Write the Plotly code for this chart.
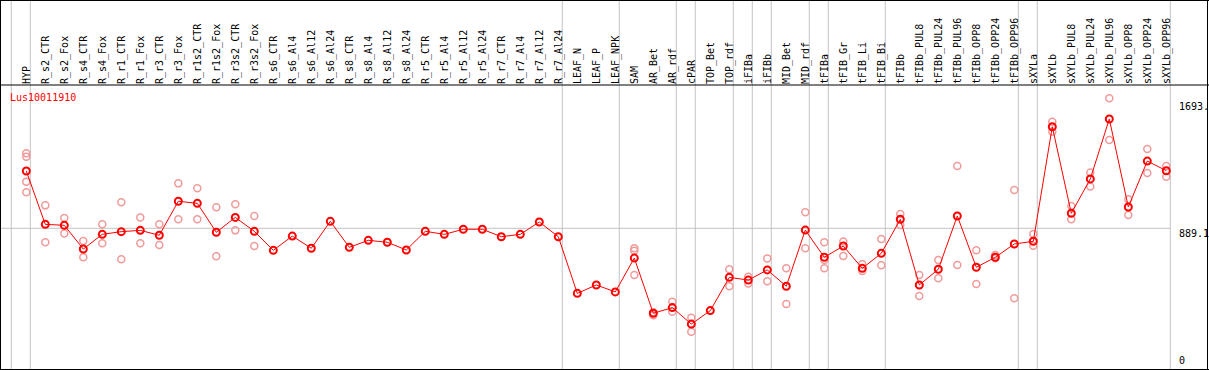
import plotly.graph_objects as go

categories = [
    "HYP", "R_s2_CTR", "R_s2_Fox", "R_s4_CTR", "R_s4_Fox", "R_r1_CTR", "R_r1_Fox",
    "R_r3_CTR", "R_r3_Fox", "R_r1s2_CTR", "R_r1s2_Fox", "R_r3s2_CTR", "R_r3s2_Fox",
    "R_s6_CTR", "R_s6_Al4", "R_s6_Al12", "R_s6_Al24", "R_s8_CTR", "R_s8_Al4",
    "R_s8_Al12", "R_s8_Al24", "R_r5_CTR", "R_r5_Al4", "R_r5_Al12", "R_r5_Al24",
    "R_r7_CTR", "R_r7_Al4", "R_r7_Al12", "R_r7_Al24", "LEAF_N", "LEAF_P", "LEAF_NPK",
    "SAM", "AR_Bet", "AR_rdf", "cPAR", "TOP_Bet", "TOP_rdf", "iFIBa", "iFIBb",
    "MID_Bet", "MID_rdf", "tFIBa", "tFIB_Gr", "tFIB_Li", "tFIB_Bi", "tFIBb",
    "tFIBb_PUL8", "tFIBb_PUL24", "tFIBb_PUL96", "tFIBb_OPP8", "tFIBb_OPP24",
    "tFIBb_OPP96", "sXYLa", "sXYLb", "sXYLb_PUL8", "sXYLb_PUL24", "sXYLb_PUL96",
    "sXYLb_OPP8", "sXYLb_OPP24", "sXYLb_OPP96",
]

means = [
    1251, 914, 908, 758, 851, 868, 876, 845, 1060, 1047, 864, 958, 870,
    750, 840, 763, 933, 769, 813, 801, 752, 870, 851, 883, 883, 836, 851, 929, 836,
    478, 531, 487, 701, 352, 388, 284, 369, 579, 562, 626, 523, 878,
    706, 777, 636, 731, 946, 531, 630, 967, 643, 706, 790, 807,
    1531, 984, 1201, 1580, 1024, 1314, 1253,
]

replicates = [
    [1363, 1342, 1184, 1117], [1034, 801], [954, 857], [809, 706], [914, 794],
    [1053, 693], [958, 794], [914, 784], [1173, 946], [1142, 946], [1022, 712],
    [1041, 876], [967, 777],
    [], [], [], [], [], [], [], [], [], [], [], [], [], [], [], [],
    [], [], [],
    [763, 748, 594], [358, 339], [425, 362], [324, 236], [], [630, 523],
    [583, 541], [699, 554], [636, 411], [990, 763],
    [801, 689, 636], [805, 714], [662, 619], [821, 655], [979, 910],
    [594, 461], [689, 573], [1283, 657], [750, 537], [720, 700], [1131, 447],
    [853, 779],
    [1563, 1500], [1030, 946], [1241, 1153], [1711, 1447], [1072, 973],
    [1390, 1239], [1283, 1215],
]

# index of the last category in each group (group separators)
group_ends = [-1, 0, 28, 31, 34, 35, 37, 38, 39, 41, 42, 45, 52, 53, 60]

y_ticks = [0, 889.1, 1693]
y_tick_text = ["0", "889.1", "1693."]
gene = "Lus10011910"

W, H = 1209, 370
MONO = "DejaVu Sans Mono"

rep_x, rep_y = [], []
for c, reps in zip(categories, replicates):
    for v in reps:
        rep_x.append(c)
        rep_y.append(v)

fig = go.Figure()
fig.add_trace(go.Scatter(
    x=rep_x, y=rep_y, mode="markers",
    marker=dict(symbol="circle-open", size=7, color="#f19a9a",
                line=dict(width=1.5, color="#f19a9a")),
    hoverinfo="skip", showlegend=False,
))
fig.add_trace(go.Scatter(
    x=categories, y=means, mode="lines+markers",
    line=dict(color="#ff0000", width=1),
    marker=dict(symbol="circle-open", size=7, color="#ff0000",
                line=dict(width=2, color="#ff0000")),
    showlegend=False,
))

def px_x(p):
    return p / W

def px_y(p):
    return 1 - p / H

shapes = []
for g in group_ends:
    shapes.append(dict(type="line", xref="x", yref="paper", x0=g + 0.21, x1=g + 0.21,
                       y0=0, y1=1, line=dict(color="#c4c4c4", width=1), layer="below"))
shapes.append(dict(type="line", xref="paper", yref="y", x0=0, x1=px_x(1170.5),
                   y0=y_ticks[1], y1=y_ticks[1], line=dict(color="#c4c4c4", width=1),
                   layer="below"))
black = dict(color="#000000", width=1)
shapes += [
    dict(type="line", xref="paper", yref="paper", x0=0, x1=1, y0=px_y(85), y1=px_y(85), line=black),
    dict(type="line", xref="paper", yref="paper", x0=0, x1=1, y0=px_y(0.5), y1=px_y(0.5), line=black),
    dict(type="line", xref="paper", yref="paper", x0=0, x1=1, y0=px_y(369.5), y1=px_y(369.5), line=black),
    dict(type="line", xref="paper", yref="paper", x0=px_x(0.5), x1=px_x(0.5), y0=0, y1=1, line=black),
    dict(type="line", xref="paper", yref="paper", x0=px_x(1207.5), x1=px_x(1207.5), y0=0, y1=1, line=black),
]

annotations = [dict(xref="paper", yref="paper", x=px_x(8), y=px_y(97), text=gene,
                    showarrow=False, xanchor="left", yanchor="middle",
                    font=dict(family=MONO, size=10, color="#ff0000"))]
for v, t in zip(y_ticks, y_tick_text):
    if v == 0:
        annotations.append(dict(xref="paper", yref="y", x=px_x(1177), y=v, text=t,
                                showarrow=False, xanchor="left", yanchor="bottom", yshift=1,
                                font=dict(family=MONO, size=10, color="#000000")))
    else:
        annotations.append(dict(xref="paper", yref="y", x=px_x(1177), y=v, text=t,
                                showarrow=False, xanchor="left", yanchor="middle", yshift=-5,
                                font=dict(family=MONO, size=10, color="#000000")))

y_top = (369 - 85) / 0.15825

fig.update_layout(
    width=W, height=H,
    margin=dict(l=0, r=0, t=0, b=0),
    paper_bgcolor="white", plot_bgcolor="white",
    shapes=shapes, annotations=annotations,
    xaxis=dict(type="category", categoryorder="array", categoryarray=categories,
               range=[-26.3 / 19, (W - 26.3) / 19], side="top",
               tickmode="array", tickvals=categories, ticktext=categories,
               tickangle=-90, ticks="", showgrid=False, zeroline=False, showline=False,
               tickfont=dict(family=MONO, size=10, color="#000000"), automargin=False),
    yaxis=dict(domain=[px_y(369), px_y(85)], range=[0, y_top], showgrid=False,
               zeroline=False, showticklabels=False, showline=False, automargin=False),
)

fig.write_html(
    "out.html",
    config={"displayModeBar": False},
    post_script="document.body.style.margin='0px';document.body.style.overflow='hidden';",
)
